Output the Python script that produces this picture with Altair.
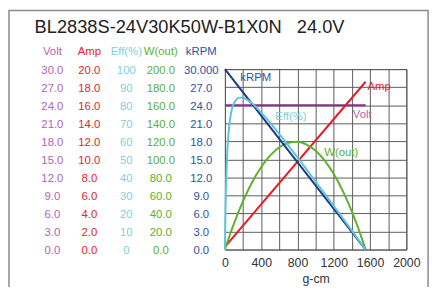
import altair as alt
import pandas as pd

FONT = "Liberation Sans"

title_text = "BL2838S-24V30K50W-B1X0N\u00a0\u00a0\u00a024.0V"

# curve data (torque in g-cm)
torque = [0, 5, 10, 20, 40, 60, 80, 100, 130, 160, 200, 250, 300, 400, 500,
          600, 700, 800, 900, 1000, 1100, 1200, 1300, 1400, 1500, 1551]
eff = [0, 17.8, 30.5, 47.3, 64.8, 73.5, 78.3, 81.1, 83.4, 84.2, 84.1, 82.8, 80.9,
       75.9, 70.2, 64.0, 57.6, 51.1, 44.4, 37.7, 30.9, 24.1, 17.3, 10.4, 3.5, 0]
wout = [0, 1.5, 3.1, 6.1, 12.0, 17.8, 23.4, 28.8, 36.7, 44.2, 53.7, 64.6, 74.6,
        91.5, 104.4, 113.4, 118.3, 119.4, 116.4, 109.5, 98.6, 83.7, 64.8, 42.0, 15.2, 0]
line_torque = [0, 1551]
krpm = [30.0, 0.0]
amp = [0.3, 18.6]
volt = [24.0, 24.0]

# left-hand scale columns
volt_labels = ["0.0", "3.0", "6.0", "9.0", "12.0", "15.0", "18.0", "21.0", "24.0", "27.0", "30.0"]
amp_labels = ["0.0", "2.0", "4.0", "6.0", "8.0", "10.0", "12.0", "14.0", "16.0", "18.0", "20.0"]
eff_labels = ["0", "10", "20", "30", "40", "50", "60", "70", "80", "90", "100"]
w_labels = ["0.0", "20.0", "40.0", "60.0", "80.0", "100.0", "120.0", "140.0", "160.0", "180.0", "200.0"]
krpm_labels = ["0.0", "3.0", "6.0", "9.0", "12.0", "15.0", "18.0", "21.0", "24.0", "27.0", "30.000"]
headers = ["Volt", "Amp", "Eff(%)", "W(out)", "kRPM"]

x_ticks = [0, 200, 400, 600, 800, 1000, 1200, 1400, 1600, 1800, 2000]
y_grid = [0, 3, 6, 9, 12, 15, 18, 21, 24, 27, 30]

# series styling
C_VOLT_LINE, C_VOLT_TXT = "#8b2c86", "#b066b4"
C_AMP_LINE, C_AMP_TXT = "#e31d25", "#e2262f"
C_EFF_LINE, C_EFF_TXT = "#5ec4d8", "#7fcfe0"
C_W_LINE, C_W_TXT = "#5fb02f", "#5cb130"
C_K_LINE, C_K_TXT = "#1b3a8c", "#2e54a4"

curve_df = pd.DataFrame({"T": torque, "eff": eff, "w": wout})
line_df = pd.DataFrame({"T": line_torque, "krpm": krpm, "amp": amp, "volt": volt})

x_enc = alt.X("T:Q", scale=alt.Scale(domain=[0, 2000], nice=False),
              axis=alt.Axis(values=x_ticks, grid=True, gridColor="#5a5a5a", gridWidth=1,
                            ticks=False, domain=False, title="g-cm", format="d",
                            labelExpr="datum.value % 400 == 0 ? datum.label : ''",
                            labelOverlap=False, labelFlush=False, labelBound=False,
                            labelFont=FONT, labelFontSize=12.5, labelColor="#333333",
                            labelPadding=7, titleFont=FONT, titleFontSize=12.5,
                            titleFontWeight="normal", titleColor="#333333", titlePadding=4))


def yq(field, domain, axis=None):
    return alt.Y(field, scale=alt.Scale(domain=domain, nice=False), axis=axis)


grid_axis = alt.Axis(values=y_grid, grid=True, gridColor="#5a5a5a", gridWidth=1,
                     labels=False, ticks=False, domain=False, title=None)

layers = []

# outer frame
layers.append(alt.Chart(pd.DataFrame({"a": [0]})).mark_rect(
    filled=False, stroke="#8a8a8a", strokeWidth=1.5).encode(
    x=alt.value(-219), x2=alt.value(206), y=alt.value(-59.5), y2=alt.value(226)))

# lines
layers.append(alt.Chart(line_df).mark_line(color=C_VOLT_LINE, strokeWidth=2).encode(
    x=x_enc, y=yq("volt:Q", [0, 30], grid_axis)))
layers.append(alt.Chart(line_df).mark_line(color=C_AMP_LINE, strokeWidth=2).encode(
    x=x_enc, y=yq("amp:Q", [0, 20])))
layers.append(alt.Chart(curve_df).mark_line(color=C_W_LINE, strokeWidth=2, interpolate="monotone").encode(
    x=x_enc, y=yq("w:Q", [0, 200])))
layers.append(alt.Chart(line_df).mark_line(color=C_K_LINE, strokeWidth=2).encode(
    x=x_enc, y=yq("krpm:Q", [0, 30])))
layers.append(alt.Chart(curve_df).mark_line(color=C_EFF_LINE, strokeWidth=2, interpolate="monotone").encode(
    x=x_enc, y=yq("eff:Q", [0, 100])))

# in-plot labels
def plot_label(text, t, v, domain, color, align="center"):
    df = pd.DataFrame({"T": [t], "v": [v], "txt": [text]})
    return alt.Chart(df).mark_text(font=FONT, fontSize=11.5, color=color, align=align,
                                   baseline="middle").encode(
        x=x_enc, y=yq("v:Q", domain), text="txt:N")

layers.append(plot_label("kRPM", 340, 28.5, [0, 30], C_K_TXT))
layers.append(plot_label("Amp", 1699, 18.0, [0, 20], C_AMP_TXT))
layers.append(plot_label("Eff(%)", 728, 73.4, [0, 100], C_EFF_TXT))
layers.append(plot_label("Volt", 1513, 22.4, [0, 30], C_VOLT_TXT))
layers.append(plot_label("W(out)", 1283, 106.8, [0, 200], C_W_TXT))

# left-hand scale columns
col_x = [-175, -137.5, -100, -65, -24]
cols = [
    (volt_labels, [0, 30], C_VOLT_TXT),
    (amp_labels, [0, 20], C_AMP_TXT),
    (eff_labels, [0, 100], C_EFF_TXT),
    (w_labels, [0, 200], C_W_TXT),
    (krpm_labels, [0, 30], C_K_TXT),
]
for (labs, dom, col), cx, hdr in zip(cols, col_x, headers):
    df = pd.DataFrame({"v": [float(s) for s in labs], "lab": labs})
    layers.append(alt.Chart(df).mark_text(font=FONT, fontSize=11.5, color=col, align="center",
                                          baseline="middle", dy=1.5).encode(
        x=alt.value(cx), y=yq("v:Q", dom), text="lab:N"))
    layers.append(alt.Chart(pd.DataFrame({"h": [hdr]})).mark_text(
        font=FONT, fontSize=11.5, color=col, align="center", baseline="middle").encode(
        x=alt.value(cx), y=alt.value(-17.5), text="h:N"))

# title
layers.append(alt.Chart(pd.DataFrame({"t": [title_text]})).mark_text(
    font=FONT, fontSize=18.5, color="#222222", align="left", baseline="middle").encode(
    x=alt.value(-193), y=alt.value(-43), text="t:N"))

chart = alt.layer(*layers).resolve_scale(y="independent").properties(
    width=184, height=183,
    autosize=alt.AutoSizeParams(type="none"),
    padding={"left": 220, "top": 60, "right": 25, "bottom": 36},
    background="white",
).configure_view(stroke="#5a5a5a", strokeWidth=1)

chart.save("out.html", embed_options={"renderer": "svg", "actions": False})
